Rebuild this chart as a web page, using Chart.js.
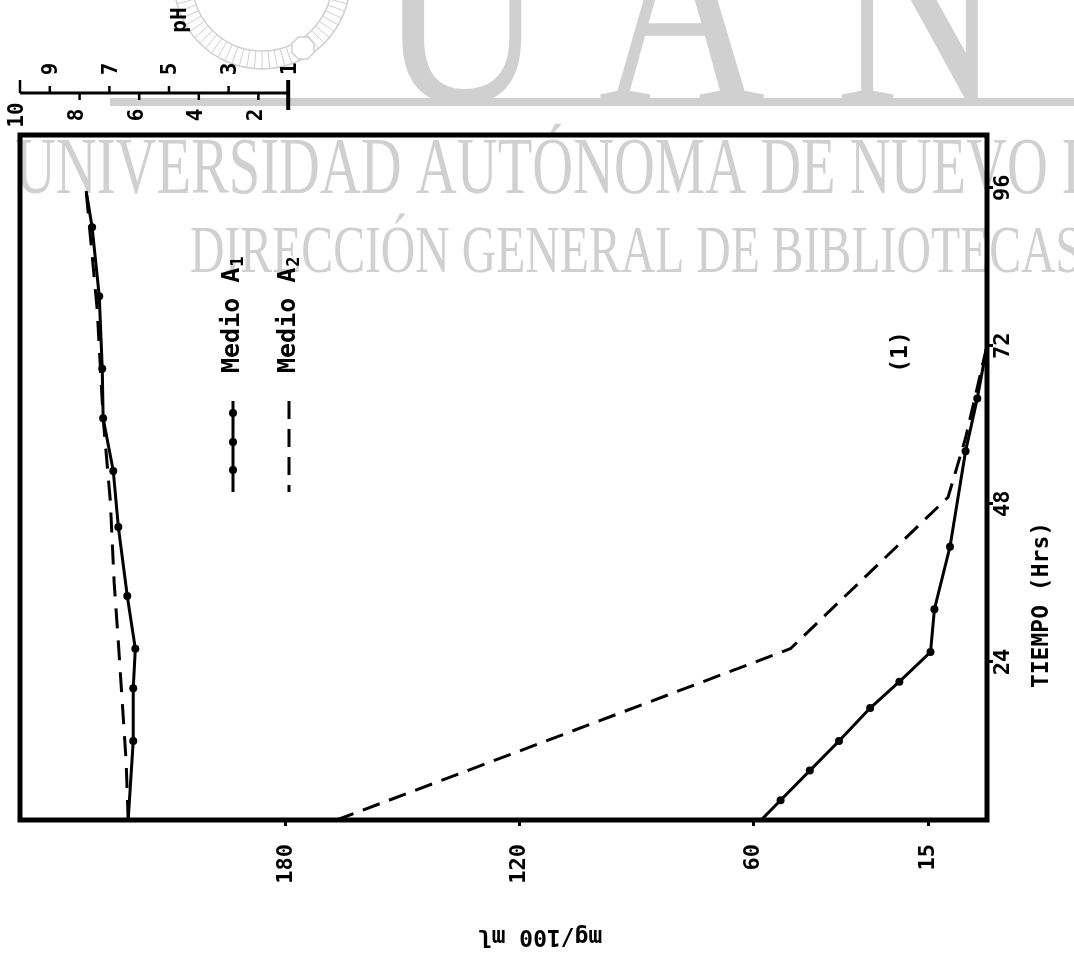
<!DOCTYPE html>
<html lang="es">
<head>
<meta charset="utf-8">
<title>Medio A1 / Medio A2 - mg/100 ml y pH vs TIEMPO (Hrs)</title>
<script src="https://cdn.jsdelivr.net/npm/chart.js@4.4.1/dist/chart.umd.min.js"></script>
<style>
    html, body { margin: 0; padding: 0; background: #fff; }
    #grafica { display: block; }
</style>
</head>
<body>
<canvas id="grafica" width="1074" height="965"></canvas>
<script>
// ============================================================
// DATOS
// ============================================================
const tiempoTicks = [24, 48, 72, 96];
const mgTicks = [180, 120, 60, 15];
const phTicks = [1, 2, 3, 4, 5, 6, 7, 8, 9, 10];

// mg/100 ml
const a1MgTiempo = [0, 3, 7.5, 12, 17, 21, 25.5, 32, 41.5, 56, 64, 72];
const a1Mg = [58, 53, 45.5, 38, 30, 22.5, 14.5, 13.5, 9.5, 5.5, 2.5, 0];
const a2MgTiempo = [0, 26, 49, 58, 72];
const a2Mg = [167, 50.5, 10, 5.5, 0];

// pH
const a1PhTiempo = [0, 12, 20, 26, 34, 44.5, 53, 61, 68.5, 79.5, 90, 95.5];
const a1Ph = [6.37, 6.2, 6.2, 6.13, 6.4, 6.7, 6.87, 7.21, 7.24, 7.34, 7.58, 7.78];
const a2PhTiempo = [0, 9, 18, 27, 36, 48.5, 61, 77.5, 95.5];
const a2Ph = [6.37, 6.44, 6.57, 6.7, 6.84, 6.97, 7.21, 7.41, 7.78];

const FUENTE = '"DejaVu Sans Mono", monospace';
const GUION_A2 = [18, 10];

function puntos(valores, tiempos) {
    return tiempos.map((t, i) => ({ x: valores[i], y: t }));
}

// sin punto en los extremos de cada curva
function radioPunto(ctx) {
    const n = ctx.dataset.data.length;
    return (ctx.dataIndex === 0 || ctx.dataIndex === n - 1) ? 0 : 4;
}

// texto girado (lee de abajo hacia arriba)
function textoGirado(ctx, texto, x, y, font, angulo, align) {
    ctx.save();
    ctx.translate(x, y);
    ctx.rotate(angulo);
    ctx.font = font;
    ctx.textAlign = align || 'center';
    ctx.textBaseline = 'middle';
    ctx.fillText(texto, 0, 0);
    ctx.restore();
}

// ============================================================
// MARCA DE AGUA (sello UANL del escaneo)
// ============================================================
const marcaAgua = {
    id: 'marcaAgua',
    beforeDraw(chart) {
        const ctx = chart.ctx;
        ctx.save();
        ctx.fillStyle = '#fff';
        ctx.fillRect(0, 0, chart.width, chart.height);

        const gris = '#d0d0d0';
        ctx.fillStyle = gris;
        ctx.strokeStyle = gris;

        // sello
        const cx = 262, cy = -19;
        ctx.lineWidth = 1.5;
        ctx.beginPath(); ctx.arc(cx, cy, 88, 0, Math.PI * 2); ctx.stroke();
        ctx.beginPath(); ctx.arc(cx, cy, 70, 0, Math.PI * 2); ctx.stroke();
        ctx.lineWidth = 1;
        for (let a = 0; a < Math.PI; a += Math.PI / 36) {
            ctx.beginPath();
            ctx.moveTo(cx + 70 * Math.cos(a), cy + 70 * Math.sin(a));
            ctx.lineTo(cx + 88 * Math.cos(a), cy + 88 * Math.sin(a));
            ctx.stroke();
        }
        ctx.beginPath();
        for (let k = 0; k < 8; k++) {
            const a = Math.PI / 8 + k * Math.PI / 4;
            const px = 303 + 12 * Math.cos(a), py = 48 + 12 * Math.sin(a);
            if (k === 0) ctx.moveTo(px, py); else ctx.lineTo(px, py);
        }
        ctx.closePath();
        ctx.fillStyle = '#fff';
        ctx.fill();
        ctx.lineWidth = 1.5;
        ctx.stroke();
        ctx.fillStyle = gris;

        // letras grandes
        ctx.font = '290px "Liberation Serif", serif';
        ctx.textBaseline = 'alphabetic';
        ctx.textAlign = 'left';
        [['U', 378], ['A', 598], ['N', 835]].forEach(([l, x]) => {
            ctx.save();
            ctx.translate(x, 102);
            ctx.scale(0.8, 1);
            ctx.fillText(l, 0, 0);
            ctx.restore();
        });

        // barra
        ctx.fillRect(110, 98, chart.width - 110, 8);

        // lineas de texto
        ctx.font = '80px "Liberation Serif", serif';
        let escala = 1047 / ctx.measureText('UNIVERSIDAD AUTÓNOMA DE NUEVO ').width;
        ctx.save();
        ctx.translate(15, 193);
        ctx.scale(escala, 1);
        ctx.fillText('UNIVERSIDAD AUTÓNOMA DE NUEVO LEÓN', 0, 0);
        ctx.restore();

        ctx.font = '67px "Liberation Serif", serif';
        escala = 892 / ctx.measureText('DIRECCIÓN GENERAL DE BIBLIOTECAS').width;
        ctx.save();
        ctx.translate(190, 272);
        ctx.scale(escala, 1);
        ctx.fillText('DIRECCIÓN GENERAL DE BIBLIOTECAS', 0, 0);
        ctx.restore();

        ctx.restore();
    }
};

// ============================================================
// MARCO, EJE DE pH, LEYENDA Y TITULOS
// ============================================================
const adornos = {
    id: 'adornos',
    afterDraw(chart) {
        const ctx = chart.ctx;
        const area = chart.chartArea;
        const ph = chart.scales.ph;
        const arriba = -Math.PI / 2;
        ctx.save();
        ctx.fillStyle = '#000';
        ctx.strokeStyle = '#000';

        // marco
        ctx.lineWidth = 5;
        ctx.strokeRect(area.left, area.top, area.right - area.left, area.bottom - area.top);

        // eje de pH
        const yPh = 93;
        const x1 = ph.getPixelForValue(1), x10 = ph.getPixelForValue(10);
        ctx.lineWidth = 3;
        ctx.beginPath(); ctx.moveTo(x10, yPh); ctx.lineTo(x1, yPh); ctx.stroke();
        ctx.lineWidth = 4;
        ctx.beginPath(); ctx.moveTo(x1, 80); ctx.lineTo(x1, 110); ctx.stroke();
        ctx.lineWidth = 2.5;
        phTicks.forEach(v => {
            const x = ph.getPixelForValue(v);
            const par = v % 2 === 0;
            ctx.beginPath();
            if (v === 10) { ctx.moveTo(x, 80); ctx.lineTo(x, yPh); }
            else if (par) { ctx.moveTo(x, yPh); ctx.lineTo(x, yPh + 7); }
            else if (v !== 1) { ctx.moveTo(x, yPh); ctx.lineTo(x, yPh - 7); }
            ctx.stroke();
            const f = 'bold 21px ' + FUENTE;
            if (par) textoGirado(ctx, String(v), x - 2, yPh + 22, f, arriba);
            else textoGirado(ctx, String(v), x + 2, yPh - 24, f, arriba);
        });
        textoGirado(ctx, 'pH', 181, 20, 'bold 21px ' + FUENTE, arriba);

        // titulos de ejes
        textoGirado(ctx, 'TIEMPO (Hrs)', 1042, 605, 'bold 23px ' + FUENTE, arriba);
        textoGirado(ctx, 'mg/100 ml', 540, 936, 'bold 23px ' + FUENTE, Math.PI);
        textoGirado(ctx, '(1)', 901, 352, 'bold 23px ' + FUENTE, arriba);

        // leyenda
        [
            { texto: 'Medio A', sub: '1', x: 232, dash: [], puntos: true },
            { texto: 'Medio A', sub: '2', x: 288, dash: GUION_A2, puntos: false }
        ].forEach(item => {
            ctx.save();
            ctx.translate(item.x, 373);
            ctx.rotate(arriba);
            ctx.font = 'bold 25px ' + FUENTE;
            ctx.textAlign = 'left';
            ctx.textBaseline = 'middle';
            ctx.fillText(item.texto, 0, 0);
            const w = ctx.measureText(item.texto).width;
            ctx.font = 'bold 17px ' + FUENTE;
            ctx.fillText(item.sub, w + 1, 7);
            ctx.restore();

            ctx.lineWidth = 3;
            ctx.setLineDash(item.dash);
            ctx.beginPath(); ctx.moveTo(item.x + 1, 401); ctx.lineTo(item.x + 1, 492); ctx.stroke();
            ctx.setLineDash([]);
            if (item.puntos) {
                [413, 442, 470].forEach(y => {
                    ctx.beginPath(); ctx.arc(item.x + 1, y, 4, 0, Math.PI * 2); ctx.fill();
                });
            }
        });
        ctx.restore();
    }
};

// ============================================================
// GRAFICA
// ============================================================
function ejeTicks(valores) {
    return function(scale) {
        scale.ticks = valores.map(v => ({ value: v }));
    };
}

const lineaBase = {
    showLine: true,
    borderColor: '#000',
    backgroundColor: '#000',
    borderWidth: 3,
    pointBackgroundColor: '#000',
    pointBorderWidth: 0,
    tension: 0
};

const rejilla = {
    drawOnChartArea: false,
    drawTicks: true,
    tickLength: 6,
    color: '#000',
    lineWidth: 3
};

Chart.defaults.font.family = FUENTE;
Chart.defaults.color = '#000';

new Chart(document.getElementById('grafica'), {
    type: 'scatter',
    data: {
        datasets: [
            Object.assign({}, lineaBase, {
                label: 'Medio A1 mg/100 ml',
                data: puntos(a1Mg, a1MgTiempo),
                xAxisID: 'x', yAxisID: 'y',
                pointRadius: radioPunto
            }),
            Object.assign({}, lineaBase, {
                label: 'Medio A2 mg/100 ml',
                data: puntos(a2Mg, a2MgTiempo),
                xAxisID: 'x', yAxisID: 'y',
                borderDash: GUION_A2,
                pointRadius: 0
            }),
            Object.assign({}, lineaBase, {
                label: 'Medio A1 pH',
                data: puntos(a1Ph, a1PhTiempo),
                xAxisID: 'ph', yAxisID: 'y',
                pointRadius: radioPunto
            }),
            Object.assign({}, lineaBase, {
                label: 'Medio A2 pH',
                data: puntos(a2Ph, a2PhTiempo),
                xAxisID: 'ph', yAxisID: 'y',
                borderDash: [20, 12],
                pointRadius: 0
            })
        ]
    },
    options: {
        responsive: false,
        animation: false,
        devicePixelRatio: 1,
        layout: { padding: { left: 20, top: 135, right: 0, bottom: 0 } },
        plugins: {
            legend: { display: false },
            tooltip: { enabled: false }
        },
        scales: {
            x: {
                type: 'linear',
                position: 'bottom',
                reverse: true,
                min: 0,
                max: 248.3,
                afterBuildTicks: ejeTicks(mgTicks),
                afterFit: s => { s.height = 145; },
                grid: rejilla,
                border: { display: false },
                ticks: {
                    minRotation: 90,
                    maxRotation: 90,
                    padding: 18,
                    font: { size: 22, weight: 'bold' }
                }
            },
            y: {
                type: 'linear',
                position: 'right',
                min: 0,
                max: 104,
                afterBuildTicks: ejeTicks(tiempoTicks),
                afterFit: s => { s.width = 87; },
                grid: rejilla,
                border: { display: false },
                ticks: {
                    minRotation: 90,
                    maxRotation: 90,
                    crossAlign: 'center',
                    padding: -3,
                    font: { size: 22, weight: 'bold' }
                }
            },
            ph: {
                type: 'linear',
                axis: 'x',
                position: 'top',
                display: false,
                reverse: true,
                min: -22.45,
                max: 10
            }
        }
    },
    plugins: [marcaAgua, adornos]
});
</script>
</body>
</html>
